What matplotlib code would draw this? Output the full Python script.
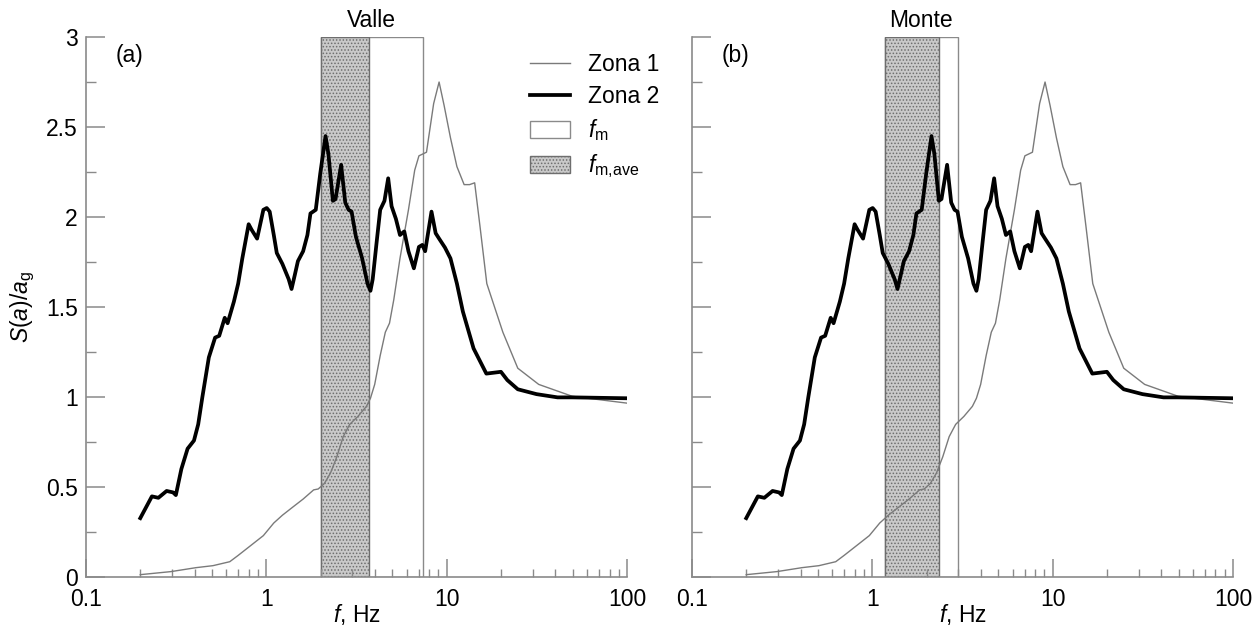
import matplotlib
matplotlib.use("Agg")
import matplotlib.pyplot as plt
import matplotlib.patches as mpatches
import matplotlib.lines as mlines
import matplotlib.transforms as mtransforms
import numpy as np

plt.rcParams['font.family'] = ['Liberation Sans', 'DejaVu Sans']
plt.rcParams['mathtext.fontset'] = 'custom'
plt.rcParams['mathtext.rm'] = 'Liberation Sans'
plt.rcParams['mathtext.it'] = 'Liberation Sans:italic'
plt.rcParams['hatch.linewidth'] = 0.7

# Zona 2 (thick black)
f_z2 = [0.2, 0.232, 0.252, 0.28, 0.304, 0.315, 0.338, 0.366, 0.397, 0.419, 0.442, 0.48,
        0.52, 0.548, 0.588, 0.61, 0.661, 0.698, 0.736, 0.798, 0.828, 0.889, 0.963, 1.005,
        1.044, 1.10, 1.143, 1.227, 1.33, 1.38, 1.44, 1.497, 1.60, 1.69, 1.757, 1.88, 1.99,
        2.13, 2.21, 2.34, 2.42, 2.60, 2.74, 2.86, 2.97, 3.14, 3.40, 3.64, 3.78, 3.89, 4.10,
        4.28, 4.52, 4.74, 4.95, 5.23, 5.51, 5.82, 6.14, 6.58, 7.02, 7.33, 7.60, 8.24, 8.69,
        9.08, 9.79, 10.5, 11.4, 12.3, 14.1, 16.6, 20.0, 21.7, 24.8, 31.5, 41.2, 49.7, 100]
s_z2 = [0.327, 0.448, 0.44, 0.478, 0.47, 0.455, 0.60, 0.713, 0.758, 0.848, 1.0, 1.22,
        1.33, 1.34, 1.44, 1.41, 1.53, 1.63, 1.77, 1.96, 1.93, 1.88, 2.04, 2.05,
        2.03, 1.90, 1.80, 1.74, 1.655, 1.60, 1.68, 1.755, 1.81, 1.90, 2.02, 2.04, 2.24,
        2.45, 2.35, 2.09, 2.10, 2.29, 2.08, 2.04, 2.03, 1.89, 1.77, 1.63, 1.59, 1.655, 1.87,
        2.04, 2.09, 2.215, 2.06, 1.99, 1.90, 1.92, 1.81, 1.715, 1.834, 1.845, 1.81, 2.03, 1.91,
        1.88, 1.83, 1.77, 1.63, 1.475, 1.27, 1.13, 1.14, 1.094, 1.043, 1.016, 0.998, 0.998, 0.993]

# Zona 1 (thin grey)
f_z1 = [0.2, 0.296, 0.408, 0.506, 0.627, 0.698, 0.82, 0.963, 1.10, 1.227, 1.40, 1.60,
        1.83, 1.94, 2.10, 2.27, 2.46, 2.67, 2.90, 3.22, 3.59, 3.78, 3.99, 4.28, 4.57, 4.82,
        5.09, 5.51, 6.14, 6.65, 7.02, 7.73, 8.47, 9.08, 9.68, 10.5, 11.4, 12.5, 13.4, 14.3,
        15.3, 16.7, 20.5, 24.8, 32.4, 49.7, 100]
s_z1 = [0.013, 0.03, 0.052, 0.063, 0.085, 0.12, 0.175, 0.23, 0.30, 0.343, 0.388, 0.433,
        0.484, 0.489, 0.52, 0.578, 0.668, 0.78, 0.848, 0.892, 0.948, 0.993, 1.07, 1.23, 1.36, 1.41,
        1.54, 1.77, 2.04, 2.26, 2.34, 2.36, 2.63, 2.75, 2.62, 2.44, 2.28, 2.18, 2.18, 2.19,
        1.95, 1.63, 1.36, 1.16, 1.07, 1.004, 0.966]

panels = ['(a)', '(b)']
titles = ['Valle', 'Monte']
fm_ave_lo = [2.0, 1.18]
fm_ave_hi = [3.7, 2.33]
fm = [7.4, 2.97]

grey = '#8a8a8a'
shade = '#c9c9c9'
dots = '#6e6e6e'
fs = 16.5

fig = plt.figure(figsize=(12.59, 6.34), dpi=100)
axes = [fig.add_axes([0.0683, 0.0899, 0.4297, 0.8517]),
        fig.add_axes([0.5496, 0.0899, 0.4297, 0.8517])]

for i, ax in enumerate(axes):
    ax.axvspan(fm_ave_lo[i], fm[i], facecolor='white', edgecolor=grey, lw=1.0, zorder=1)
    ax.axvspan(fm_ave_lo[i], fm_ave_hi[i], facecolor=shade, edgecolor=dots,
               hatch='.....', lw=1.0, zorder=1.5)
    ax.plot(f_z1, s_z1, color='#7a7a7a', lw=1.0, zorder=3)
    ax.plot(f_z2, s_z2, color='black', lw=2.7, zorder=4)

    ax.set_xscale('log')
    ax.set_xlim(0.1, 100)
    ax.set_ylim(0, 3)
    ax.set_xticks([0.1, 1, 10, 100])
    ax.set_xticklabels(['0.1', '1', '10', '100'])
    ax.set_yticks(np.arange(0, 3.01, 0.5))
    ax.set_yticks(np.arange(0.25, 3, 0.5), minor=True)
    if i == 0:
        ax.set_yticklabels(['0', '0.5', '1', '1.5', '2', '2.5', '3'])
        ax.set_ylabel(r'$S(\mathit{a})/\mathit{a}_\mathrm{g}$', fontsize=fs, labelpad=6)
    else:
        ax.set_yticklabels([])
    ax.set_xlabel(r'$\mathit{f}$, Hz', fontsize=fs)
    ax.xaxis.set_label_coords(0.5, -0.047)

    for s in ['top', 'right']:
        ax.spines[s].set_visible(False)
    for s in ['left', 'bottom']:
        ax.spines[s].set_color(grey)
        ax.spines[s].set_linewidth(1.2)
    ax.tick_params(which='major', direction='in', length=14, width=1.1, color=grey,
                   labelsize=fs, pad=6)
    ax.tick_params(which='minor', direction='in', length=7, width=1.0, color=grey)
    ax.tick_params(axis='x', which='major', length=13, pad=8)
    ax.tick_params(axis='x', which='minor', length=6)

    ax.text(0.054, 0.988, panels[i], transform=ax.transAxes, fontsize=fs,
            ha='left', va='top')
    trans = mtransforms.blended_transform_factory(ax.transData, ax.transAxes)
    ax.text(np.sqrt(fm_ave_lo[i] * fm[i]), 1.01, titles[i], transform=trans,
            fontsize=fs, ha='center', va='bottom')

h1 = mlines.Line2D([], [], color='#7a7a7a', lw=1.0, label='Zona 1')
h2 = mlines.Line2D([], [], color='black', lw=2.7, label='Zona 2')
h3 = mpatches.Patch(facecolor='white', edgecolor=grey, label=r'$\mathit{f}_\mathrm{m}$')
h4 = mpatches.Patch(facecolor=shade, edgecolor=dots, hatch='.....',
                    label=r'$\mathit{f}_\mathrm{m{,}ave}$')
axes[0].legend(handles=[h1, h2, h3, h4], loc='upper left', bbox_to_anchor=(0.82, 0.97),
               frameon=False, fontsize=fs, handlelength=1.75, handleheight=0.75,
               handletextpad=0.8, labelspacing=0.4, borderpad=0, borderaxespad=0)

fig.savefig('out.png', dpi=100)
